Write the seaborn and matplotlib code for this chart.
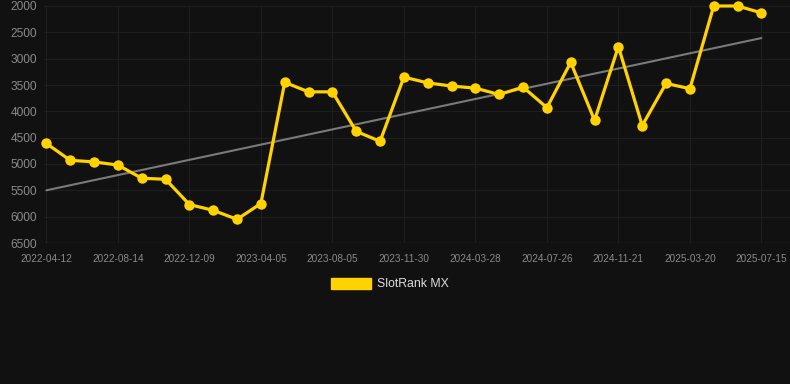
import numpy as np
import pandas as pd
import seaborn as sns
import matplotlib.pyplot as plt
from matplotlib.patches import Patch

# tick labels shown every third point
TICK_LABELS = [
    "2022-04-12", "2022-08-14", "2022-12-09", "2023-04-05", "2023-08-05",
    "2023-11-30", "2024-03-28", "2024-07-26", "2024-11-21", "2025-03-20",
    "2025-07-15",
]

# SlotRank MX rank values (one point every ~40 days)
RANK_VALUES = [
    4610, 4930, 4960, 5020, 5270, 5290, 5770, 5880, 6050, 5750,
    3450, 3630, 3630, 4380, 4570, 3350, 3460, 3520, 3560, 3680,
    3540, 3930, 3070, 4170, 2770, 4270, 3470, 3570, 2000, 2000,
    2130,
]

SERIES_NAME = "SlotRank MX"
BG = "#111111"
GRID = "#1f1f1f"
GOLD = "#FFD200"
TICK_COLOR = "#8a8a8a"


def main():
    sns.set_style("dark")
    plt.rcParams['font.family'] = ['Liberation Sans', 'DejaVu Sans']

    df = pd.DataFrame({"idx": np.arange(len(RANK_VALUES)), "rank": RANK_VALUES})

    fig = plt.figure(figsize=(7.9, 3.84), dpi=100, facecolor=BG)
    ax = fig.add_axes([44 / 790, 1 - 243 / 384, 1 - 44 / 790, (243 - 6) / 384])
    ax.set_facecolor(BG)

    # linear trend of the series
    slope, intercept = np.polyfit(df["idx"], df["rank"], 1)
    trend = pd.DataFrame({"idx": [0, len(RANK_VALUES) - 1]})
    trend["rank"] = slope * trend["idx"] + intercept
    sns.lineplot(data=trend, x="idx", y="rank", ax=ax, color="#7a7a7a",
                 linewidth=1.5, zorder=2)

    sns.lineplot(data=df, x="idx", y="rank", ax=ax, color=GOLD, linewidth=2.3,
                 marker="o", markersize=7.5, markeredgewidth=0, zorder=3,
                 clip_on=False)

    ax.set_xlim(-0.1, 31.2)
    ax.set_ylim(6500, 2000)
    ax.set_yticks(np.arange(2000, 6501, 500))
    ax.set_xticks(np.arange(0, len(RANK_VALUES), 3))
    ax.set_xticklabels(TICK_LABELS)

    ax.grid(True, color=GRID, linewidth=0.8)
    for s in ax.spines.values():
        s.set_visible(False)
    ax.axhline(6500, color="#2a2a2a", linewidth=1, zorder=1)

    ax.tick_params(axis='y', colors=TICK_COLOR, labelsize=8.6, length=0, pad=5)
    ax.tick_params(axis='x', colors=GRID, labelcolor=TICK_COLOR, labelsize=7.2,
                   length=6, width=0.8, pad=2)
    ax.set_xlabel("")
    ax.set_ylabel("")

    handle = Patch(facecolor=GOLD, edgecolor=GOLD)
    leg = fig.legend([handle], [SERIES_NAME], loc="center",
                     bbox_to_anchor=(390 / 790, 1 - 284 / 384), frameon=False,
                     fontsize=8.8, handlelength=3.3, handleheight=1.0,
                     handletextpad=0.5)
    for t in leg.get_texts():
        t.set_color("#dddddd")

    fig.savefig("out.png", dpi=100, facecolor=BG)
    plt.close(fig)


if __name__ == "__main__":
    main()
